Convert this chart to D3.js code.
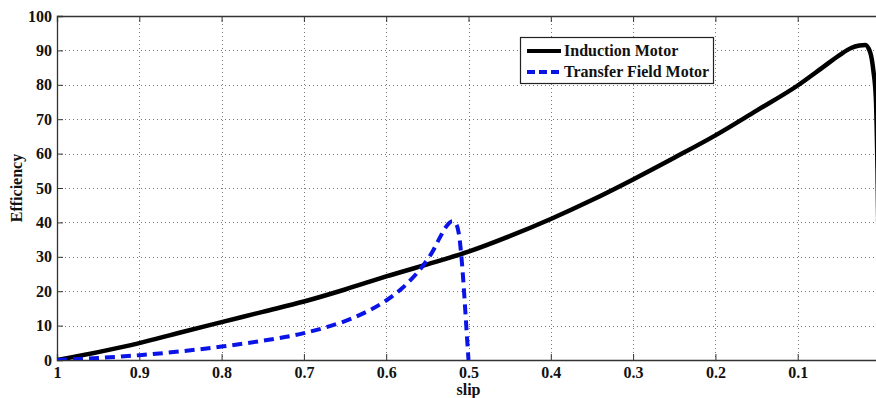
<!DOCTYPE html>
<html>
<head>
<meta charset="utf-8">
<script src="https://cdn.jsdelivr.net/npm/d3@7.9.0/dist/d3.min.js"></script>
<style>
  body { margin: 0; background: #fff; }
  svg { display: block; }
</style>
</head>
<body>
<svg id="chart" width="876" height="398"></svg>
<script>
// slip values, with efficiency (%)
const inductionSlip = [1, 0.95, 0.9, 0.85, 0.8, 0.75, 0.7, 0.65, 0.6, 0.55, 0.5, 0.45, 0.4, 0.35, 0.3, 0.25, 0.2, 0.15, 0.1, 0.07, 0.05, 0.035, 0.025, 0.018, 0.012, 0.008, 0.005, 0.003, 0];
const inductionEff = [0, 2.3, 4.9, 8, 11, 14, 17, 20.5, 24.3, 27.8, 31.5, 36, 41, 46.5, 52.5, 58.8, 65.3, 72.5, 79.8, 85, 88.5, 90.7, 91.4, 91.6, 89.5, 84, 76, 55, 0];

const transferSlip = [1, 0.95, 0.9, 0.85, 0.8, 0.75, 0.7, 0.65, 0.62, 0.6, 0.58, 0.56, 0.545, 0.535, 0.527, 0.52, 0.515, 0.512, 0.509, 0.506, 0.503, 0.5];
const transferEff = [0, 0.6, 1.4, 2.5, 3.9, 5.6, 7.8, 11.3, 14.5, 17.3, 21, 26, 31, 35.5, 38.8, 40.3, 39.5, 37, 31, 22, 11, 0];

const xTicks = [1, 0.9, 0.8, 0.7, 0.6, 0.5, 0.4, 0.3, 0.2, 0.1];
const yTicks = [0, 10, 20, 30, 40, 50, 60, 70, 80, 90, 100];

const seriesNames = ["Induction Motor", "Transfer Field Motor"];

const FONT = '"Times New Roman", "Liberation Serif", "DejaVu Serif", serif';

const svg = d3.select("#chart").attr("font-family", FONT);
const mLeft = 57, mTop = 16, mRight = 880, mBottom = 360;

const x = d3.scaleLinear().domain([1, 0]).range([mLeft, mRight]);
const y = d3.scaleLinear().domain([0, 100]).range([mBottom, mTop]);

svg.append("clipPath").attr("id", "plotclip")
  .append("rect").attr("x", mLeft).attr("y", mTop).attr("width", mRight - mLeft).attr("height", mBottom - mTop);

// grid
const grid = svg.append("g").attr("stroke", "#777").attr("stroke-width", 1).attr("stroke-dasharray", "1,3");
grid.selectAll(".gx").data(xTicks.slice(1)).join("line")
  .attr("x1", d => Math.round(x(d)) + 0.5).attr("x2", d => Math.round(x(d)) + 0.5)
  .attr("y1", mTop).attr("y2", mBottom);
grid.selectAll(".gy").data(yTicks.slice(1, -1)).join("line")
  .attr("y1", d => Math.round(y(d)) + 0.5).attr("y2", d => Math.round(y(d)) + 0.5)
  .attr("x1", mLeft).attr("x2", mRight);

// axes, ticks pointing inward
const xAxis = d3.axisBottom(x).tickValues(xTicks).tickSize(-6).tickPadding(7).tickFormat(d3.format("~g"));
const yAxis = d3.axisLeft(y).tickValues(yTicks).tickSize(-6).tickPadding(5);

const gx = svg.append("g").attr("transform", `translate(0,${mBottom})`).call(xAxis);
const gy = svg.append("g").attr("transform", `translate(${mLeft},0)`).call(yAxis);
const gxTop = svg.append("g").attr("transform", `translate(0,${mTop})`)
  .call(d3.axisTop(x).tickValues(xTicks).tickSize(-6).tickFormat(""));

[gx, gy, gxTop].forEach(g => {
  g.attr("font-family", FONT).attr("font-size", 16).attr("font-weight", "bold");
  g.selectAll("path").attr("stroke", "#333").attr("stroke-width", 1.3);
  g.selectAll("line").attr("stroke", "#333");
  g.selectAll("text").attr("fill", "#111");
});

// curves
const plot = svg.append("g").attr("clip-path", "url(#plotclip)");

plot.append("path")
  .datum(inductionSlip.map((s, i) => [s, inductionEff[i]]))
  .attr("d", d3.line().x(d => x(d[0])).y(d => y(d[1])).curve(d3.curveMonotoneX))
  .attr("fill", "none").attr("stroke", "#000").attr("stroke-width", 4.5);

plot.append("path")
  .datum(transferSlip.map((s, i) => [s, transferEff[i]]))
  .attr("d", d3.line().x(d => x(d[0])).y(d => y(d[1])).curve(d3.curveCatmullRom))
  .attr("fill", "none").attr("stroke", "#0a14e6").attr("stroke-width", 4).attr("stroke-dasharray", "10,6");

// axis labels
svg.append("text").attr("x", x(0.5)).attr("y", 395).attr("text-anchor", "middle")
  .attr("font-size", 16).attr("font-weight", "bold").attr("fill", "#111").text("slip");
svg.append("text").attr("transform", `translate(22,${(mTop + mBottom) / 2}) rotate(-90)`)
  .attr("text-anchor", "middle").attr("font-size", 16).attr("font-weight", "bold").attr("fill", "#111")
  .text("Efficiency");

// legend
const leg = svg.append("g");
leg.append("rect").attr("x", 520.5).attr("y", 37.5).attr("width", 193).attr("height", 46)
  .attr("fill", "#fff").attr("stroke", "#222").attr("stroke-width", 1.2);
const legStyles = [{ stroke: "#000", dash: null }, { stroke: "#0a14e6", dash: "8,4" }];
seriesNames.forEach((name, i) => {
  const ly = 51 + i * 21;
  leg.append("line").attr("x1", 527).attr("x2", 561).attr("y1", ly).attr("y2", ly)
    .attr("stroke", legStyles[i].stroke).attr("stroke-width", 4)
    .attr("stroke-dasharray", legStyles[i].dash);
  leg.append("text").attr("x", 564).attr("y", ly + 5)
    .attr("font-size", 16).attr("font-weight", "bold").attr("fill", "#111").text(name);
});
</script>
</body>
</html>
